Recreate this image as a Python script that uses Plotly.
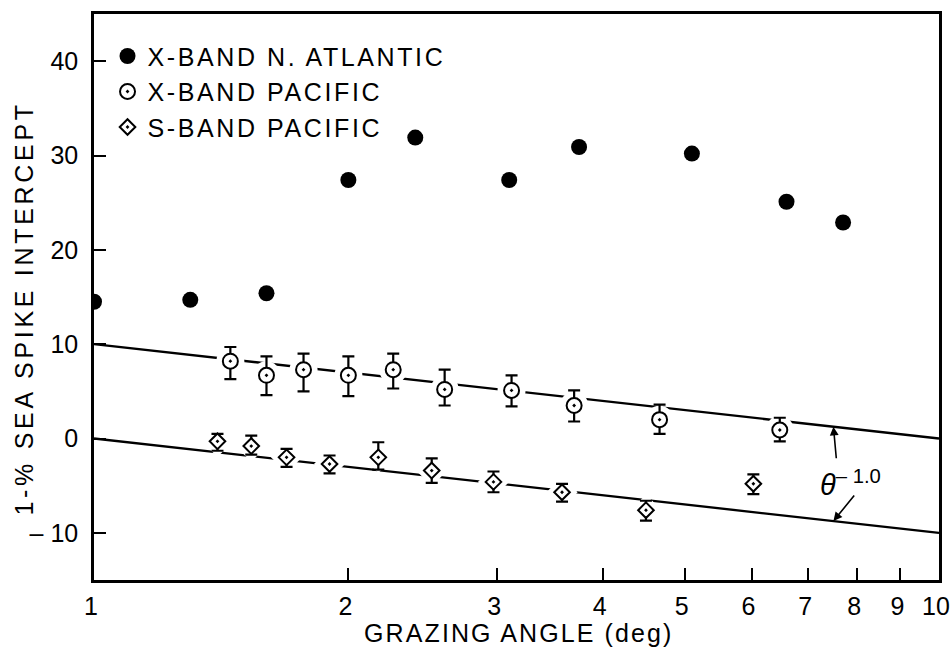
import numpy as np
import plotly.graph_objects as go

# X-band, North Atlantic
atl_angle = [1.0, 1.3, 1.6, 2.0, 2.4, 3.1, 3.75, 5.1, 6.6, 7.7]
atl_value = [14.5, 14.7, 15.4, 27.4, 31.9, 27.4, 30.9, 30.2, 25.1, 22.9]

# X-band, Pacific: mean with upper / lower limits
xpac_angle = [1.45, 1.6, 1.77, 2.0, 2.26, 2.6, 3.12, 3.7, 4.67, 6.48]
xpac_value = [8.2, 6.7, 7.3, 6.7, 7.3, 5.2, 5.1, 3.5, 2.0, 0.9]
xpac_upper = [9.7, 8.7, 9.0, 8.7, 9.0, 7.3, 6.7, 5.1, 3.6, 2.2]
xpac_lower = [6.3, 4.6, 5.0, 4.5, 5.3, 3.5, 3.4, 1.8, 0.5, -0.3]

# S-band, Pacific: mean with upper / lower limits
spac_angle = [1.4, 1.535, 1.69, 1.9, 2.17, 2.51, 2.97, 3.58, 4.5, 6.03]
spac_value = [-0.3, -0.8, -2.0, -2.7, -2.0, -3.4, -4.6, -5.7, -7.6, -4.8]
spac_upper = [0.5, 0.3, -1.1, -1.8, -0.4, -2.1, -3.5, -4.8, -6.6, -3.8]
spac_lower = [-1.3, -1.7, -3.0, -3.7, -3.3, -4.7, -5.7, -6.7, -8.7, -5.9]

# theta^-1.0 reference lines
fit_angle = [1, 10]
fit_upper = [10, 0]
fit_lower = [0, -10]

x_ticks = [1, 2, 3, 4, 5, 6, 7, 8, 9, 10]
y_ticks = [-10, 0, 10, 20, 30, 40]
y_ticktext = ["\u2013 10", "0", "10", "20", "30", "40"]

FONT = "Liberation Sans, Arial, Helvetica, sans-serif"
INK = "black"


def bars(value, upper, lower):
    return dict(
        type="data",
        symmetric=False,
        array=[u - v for u, v in zip(upper, value)],
        arrayminus=[v - l for v, l in zip(value, lower)],
        color=INK,
        thickness=2.2,
        width=6,
    )


fig = go.Figure()

for ys in (fit_upper, fit_lower):
    fig.add_trace(go.Scatter(x=fit_angle, y=ys, mode="lines",
                             line=dict(color=INK, width=2.3),
                             showlegend=False, hoverinfo="skip"))

# white halos that open gaps in the reference lines around each point
for xs, ys, sym, size in ((xpac_angle, xpac_value, "circle", 28),
                          (spac_angle, spac_value, "diamond", 24)):
    fig.add_trace(go.Scatter(x=xs, y=ys, mode="markers",
                             marker=dict(symbol=sym, size=size, color="white",
                                         line=dict(width=0)),
                             showlegend=False, hoverinfo="skip"))

fig.add_trace(go.Scatter(
    x=atl_angle, y=atl_value, mode="markers", name="X-BAND N. ATLANTIC",
    marker=dict(symbol="circle", size=16, color=INK, line=dict(width=0)),
))
fig.add_trace(go.Scatter(
    x=xpac_angle, y=xpac_value, mode="markers", name="X-BAND PACIFIC",
    marker=dict(symbol="circle-dot", size=15, color="white",
                line=dict(color=INK, width=2)),
    error_y=bars(xpac_value, xpac_upper, xpac_lower),
))
fig.add_trace(go.Scatter(
    x=spac_angle, y=spac_value, mode="markers", name="S-BAND PACIFIC",
    marker=dict(symbol="diamond-dot", size=12, color="white",
                line=dict(color=INK, width=2)),
    error_y=bars(spac_value, spac_upper, spac_lower),
))

# arrows pointing from the exponent label to both lines
tip_angle = 7.5
lx = np.log10(fit_angle)
tip_up = float(np.interp(np.log10(tip_angle), lx, fit_upper))
tip_lo = float(np.interp(np.log10(tip_angle), lx, fit_lower))

annotations = [
    dict(x=np.log10(tip_angle), y=tip_up, xref="x", yref="y", text="",
         showarrow=True, arrowhead=2, arrowsize=1.1, arrowwidth=1.6,
         arrowcolor=INK, ax=3, ay=33, standoff=0),
    dict(x=np.log10(tip_angle), y=tip_lo, xref="x", yref="y", text="",
         showarrow=True, arrowhead=2, arrowsize=1.1, arrowwidth=1.6,
         arrowcolor=INK, ax=22, ay=-27, standoff=0),
    dict(x=np.log10(7.85), y=-4.7, xref="x", yref="y",
         text="<i>\u03b8</i><sup>\u2013 1.0</sup>", showarrow=False,
         font=dict(family=FONT, size=29, color=INK)),
    dict(x=-0.082, y=0.48, xref="paper", yref="paper",
         text="1-% SEA SPIKE INTERCEPT", textangle=-90, showarrow=False,
         xanchor="center", yanchor="middle",
         font=dict(family=FONT, size=25, color=INK)),
    dict(x=0.503, y=-0.093, xref="paper", yref="paper",
         text="GRAZING ANGLE (deg)", showarrow=False,
         xanchor="center", yanchor="middle",
         font=dict(family=FONT, size=25, color=INK)),
]

fig.update_layout(
    width=951, height=656,
    margin=dict(l=94, r=12, t=14, b=76, autoexpand=False),
    paper_bgcolor="white", plot_bgcolor="white",
    font=dict(family=FONT, size=25, color=INK),
    showlegend=True,
    legend=dict(x=0.016, y=0.966, xanchor="left", yanchor="top",
                bgcolor="rgba(0,0,0,0)", borderwidth=0,
                font=dict(family=FONT, size=25, color=INK),
                tracegroupgap=0, itemsizing="trace"),
    annotations=annotations,
)

fig.update_xaxes(
    type="log", range=[0, 1], automargin=False,
    tickmode="array", tickvals=x_ticks, ticktext=[str(v) for v in x_ticks],
    ticks="inside", ticklen=12, tickwidth=2, tickcolor=INK,
    showline=True, linewidth=2.5, linecolor=INK, mirror=True,
    showgrid=False, zeroline=False, ticklabelstandoff=2,
    ticklabelshift=-3, ticklabeloverflow="allow",
)
fig.update_yaxes(
    range=[-15, 45], automargin=False,
    tickmode="array", tickvals=y_ticks, ticktext=y_ticktext,
    ticks="inside", ticklen=12, tickwidth=2, tickcolor=INK,
    showline=True, linewidth=2.5, linecolor=INK, mirror=True,
    showgrid=False, zeroline=False, ticklabelstandoff=8,
)

# the lettering is widely tracked: add letter spacing, then re-set the
# legend font so the legend box is measured again with the wider text
post = """
var gd = document.getElementById('{plot_id}');
var css = '.legendtext{letter-spacing:2.6px}' +
  '.annotation[data-index="3"] .annotation-text{letter-spacing:3.7px}' +
  '.annotation[data-index="4"] .annotation-text{letter-spacing:2.1px}';
var st = document.createElement('style');
st.textContent = css;
document.head.appendChild(st);
return Plotly.relayout(gd, {'legend.font.size': 25.001});
"""

fig.write_html("out.html", post_script=post)
